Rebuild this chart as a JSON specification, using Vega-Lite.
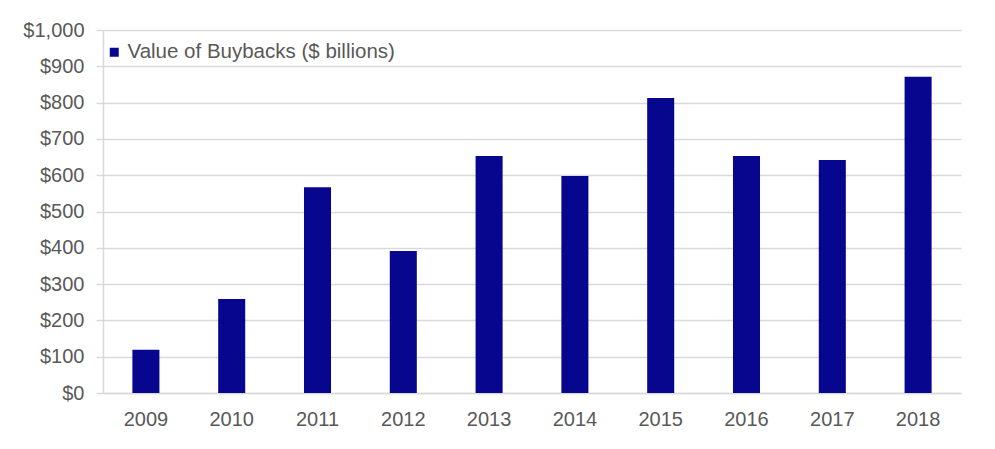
{
  "$schema": "https://vega.github.io/schema/vega-lite/v6.json",
  "width": 858,
  "height": 363,
  "autosize": "none",
  "padding": {"left": 103, "top": 30, "right": 34, "bottom": 56},
  "background": "white",
  "config": {
    "view": {"stroke": null},
    "font": "Liberation Sans"
  },
  "data": {
    "values": [
      {"year": "2009", "value": 119, "series": "Value of Buybacks ($ billions)"},
      {"year": "2010", "value": 259, "series": "Value of Buybacks ($ billions)"},
      {"year": "2011", "value": 567, "series": "Value of Buybacks ($ billions)"},
      {"year": "2012", "value": 391, "series": "Value of Buybacks ($ billions)"},
      {"year": "2013", "value": 653, "series": "Value of Buybacks ($ billions)"},
      {"year": "2014", "value": 598, "series": "Value of Buybacks ($ billions)"},
      {"year": "2015", "value": 813, "series": "Value of Buybacks ($ billions)"},
      {"year": "2016", "value": 653, "series": "Value of Buybacks ($ billions)"},
      {"year": "2017", "value": 642, "series": "Value of Buybacks ($ billions)"},
      {"year": "2018", "value": 871, "series": "Value of Buybacks ($ billions)"}
    ]
  },
  "mark": {"type": "bar"},
  "encoding": {
    "x": {
      "field": "year",
      "type": "ordinal",
      "scale": {"paddingInner": 0.685, "paddingOuter": 0.3425},
      "axis": {
        "title": null,
        "labelAngle": 0,
        "ticks": false,
        "tickSize": 0,
        "labelPadding": 16,
        "labelFontSize": 20,
        "labelColor": "#595959",
        "domainColor": "#d9d9d9",
        "domainWidth": 1.5
      }
    },
    "y": {
      "field": "value",
      "type": "quantitative",
      "scale": {"domain": [0, 1000], "nice": false},
      "axis": {
        "title": null,
        "values": [0, 100, 200, 300, 400, 500, 600, 700, 800, 900, 1000],
        "format": "$,.0f",
        "labelFontSize": 20,
        "labelColor": "#595959",
        "labelPadding": 12,
        "tickSize": 7,
        "tickColor": "#d9d9d9",
        "tickWidth": 1.5,
        "domainColor": "#d9d9d9",
        "domainWidth": 1.5,
        "gridColor": "#d9d9d9",
        "gridWidth": 1.5
      }
    },
    "color": {
      "field": "series",
      "type": "nominal",
      "scale": {"range": ["#06068f"]},
      "legend": {
        "title": null,
        "orient": "none",
        "legendX": 1,
        "legendY": 12,
        "padding": 0,
        "symbolType": "square",
        "symbolSize": 81,
        "symbolStrokeWidth": 0,
        "labelFontSize": 20.5,
        "labelLimit": 500,
        "labelColor": "#595959",
        "labelOffset": 3
      }
    }
  }
}
